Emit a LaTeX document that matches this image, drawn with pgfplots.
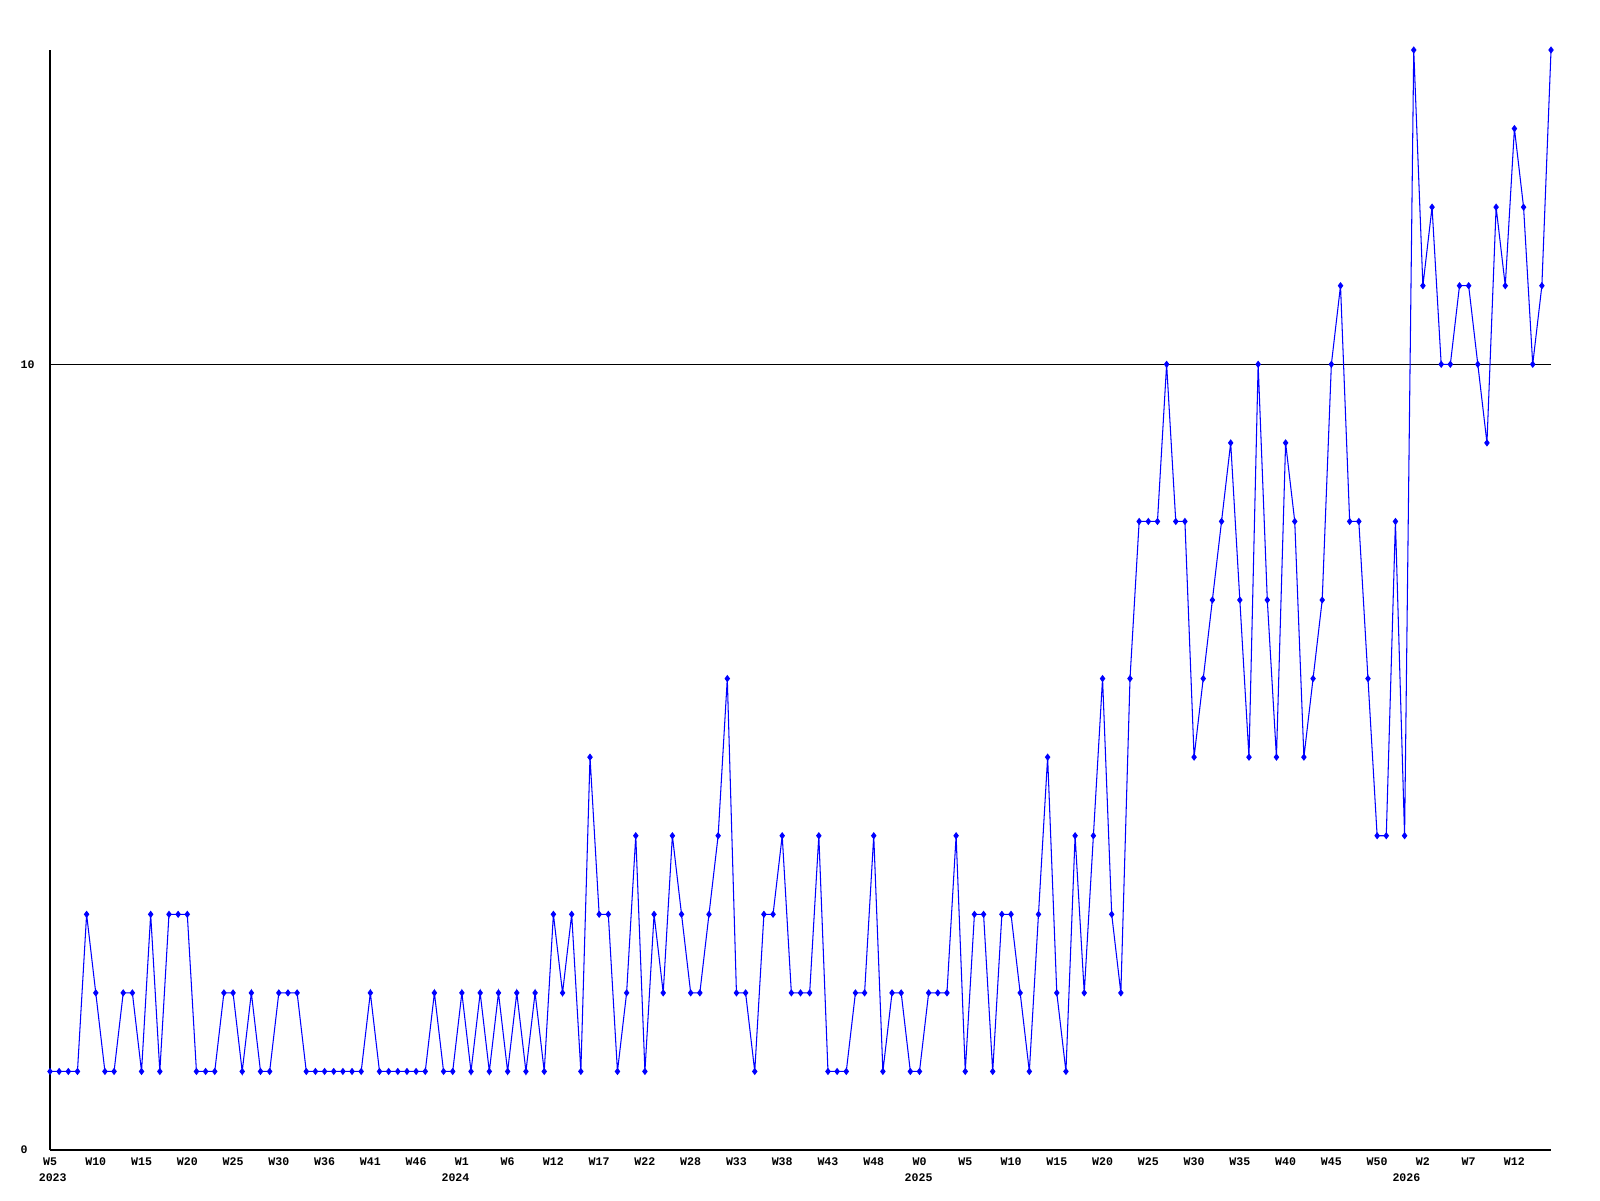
\documentclass[border=0pt]{standalone}
\usepackage{fontspec}
\setmainfont{Liberation Mono}
\usepackage{pgfplots}
\pgfplotsset{compat=1.18}
\begin{document}
\begin{tikzpicture}
\useasboundingbox (0,0) rectangle (16cm,12cm);
\begin{axis}[
  at={(0.50cm,0.50cm)}, anchor=south west,
  width=15.01cm, height=11cm, scale only axis,
  xmin=0, xmax=164, ymin=0, ymax=14,
  axis x line*=bottom, axis y line*=left,
  axis line style={black, line width=0.45pt, -},
  xtick={0,5,...,160},
  xticklabels={W5,W10,W15,W20,W25,W30,W36,W41,W46,W1,W6,W12,W17,W22,W28,W33,W38,W43,W48,W0,W5,W10,W15,W20,W25,W30,W35,W40,W45,W50,W2,W7,W12},
  xticklabel style={font=\fontsize{3.3}{4.55}\selectfont\bfseries, inner sep=0pt, yshift=-0.07cm},
  extra x ticks={0.3,44.3,94.9,148.2},
  extra x tick labels={2023,2024,2025,2026},
  extra x tick style={xticklabel style={yshift=-0.165cm}},
  ytick={0,10},
  yticklabels={0,10},
  yticklabel style={anchor=west, inner sep=0pt, xshift=-0.30cm, font=\fontsize{3.3}{4.55}\selectfont\bfseries},
  major tick length=0pt,
  tick style={draw=none},
  clip=false,
]
\addplot[black, line width=0.3pt] coordinates {(0,10) (164,10)};
\addplot[color={rgb,255:red,0;green,0;blue,255}, line width=0.3pt, mark=diamond*, mark size=0.8pt] table[x expr=\coordindex, y=v] {
v
1
1
1
1
3
2
1
1
2
2
1
3
1
3
3
3
1
1
1
2
2
1
2
1
1
2
2
2
1
1
1
1
1
1
1
2
1
1
1
1
1
1
2
1
1
2
1
2
1
2
1
2
1
2
1
3
2
3
1
5
3
3
1
2
4
1
3
2
4
3
2
2
3
4
6
2
2
1
3
3
4
2
2
2
4
1
1
1
2
2
4
1
2
2
1
1
2
2
2
4
1
3
3
1
3
3
2
1
3
5
2
1
4
2
4
6
3
2
6
8
8
8
10
8
8
5
6
7
8
9
7
5
10
7
5
9
8
5
6
7
10
11
8
8
6
4
4
8
4
14
11
12
10
10
11
11
10
9
12
11
13
12
10
11
14
};
\end{axis}
\end{tikzpicture}
\end{document}
